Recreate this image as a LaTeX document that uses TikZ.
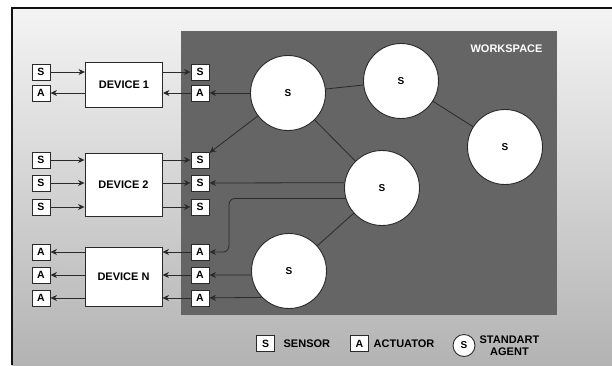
\documentclass[tikz,border=0pt]{standalone}
\usepackage{fontspec}
\setmainfont{Liberation Sans}
\usetikzlibrary{arrows.meta, positioning}
\definecolor{frame}{HTML}{111111}
\definecolor{wire}{HTML}{2A2A2A}
\definecolor{workspace}{HTML}{656565}
\definecolor{bgtop}{HTML}{F4F4F4}
\definecolor{bgbottom}{HTML}{B3B3B3}

\begin{document}
\begin{tikzpicture}[
		x=1pt, y=-1pt,
		>={Stealth[length=6.5pt, width=6pt, inset=2pt]},
		device/.style={
			draw=wire, fill=white, line width=0.9pt, minimum width=77pt, minimum height=#1,
			inner sep=0pt, font=\fontsize{11}{13}\selectfont\bfseries
		},
		port/.style={
			draw=wire, fill=white, line width=0.9pt, minimum width=18pt, minimum height=16pt,
			inner sep=0pt, font=\fontsize{10.5}{12}\selectfont\bfseries
		},
		agent/.style={
			circle, draw=wire, fill=white, line width=0.9pt, minimum size=#1,
			inner sep=0pt, font=\fontsize{10}{12}\selectfont\bfseries
		},
		arrow/.style={->, wire, line width=0.8pt},
		link/.style={wire, line width=0.8pt},
		legendtext/.style={inner sep=0pt, align=center, font=\fontsize{11}{12}\selectfont\bfseries}
		]
		
		% Frame and workspace area
		\useasboundingbox (0,0) rectangle (612,365);
		\shade[top color=bgtop, bottom color=bgbottom] (12,8) rectangle (612,365);
		\draw[frame, line width=1.2pt] (12,365) -- (12,8) -- (612,8);
		\fill[workspace] (181,31) rectangle (557,315);
		\node[anchor=east, text=white, font=\fontsize{11}{13}\selectfont\bfseries] (wslabel) at (546,49) {WORKSPACE};
		
		% Devices
		\node[device=45pt] (dev1) at (124,84.5) {DEVICE 1};
		\node[device=63pt] (dev2) at (123.5,184.5) {DEVICE 2};
		\node[device=59pt] (devn) at (123.5,276.5) {DEVICE N};
		
		% Ports of device 1
		\node[port] (s1in)  at (41,72)  {S};
		\node[port] (a1out) at (41,93)  {A};
		\node[port] (s1out) at (200,72) {S};
		\node[port] (a1in)  at (200,93) {A};
		
		% Ports of device 2
		\node[port] (s2in1)  at (41,160)  {S};
		\node[port] (s2in2)  at (41,183)  {S};
		\node[port] (s2in3)  at (41,207)  {S};
		\node[port] (s2out1) at (200,160) {S};
		\node[port] (s2out2) at (200,183) {S};
		\node[port] (s2out3) at (200,207) {S};
		
		% Ports of device N
		\node[port] (anout1) at (41,252)  {A};
		\node[port] (anout2) at (41,275)  {A};
		\node[port] (anout3) at (41,298)  {A};
		\node[port] (anin1)  at (200,252) {A};
		\node[port] (anin2)  at (200,275) {A};
		\node[port] (anin3)  at (200,298) {A};
		
		% Standart agents
		\node[agent=75pt] (ag1) at (288,93)  {S};
		\node[agent=75pt] (ag2) at (401,81)  {S};
		\node[agent=75pt] (ag3) at (505,147) {S};
		\node[agent=75pt] (ag4) at (382,188) {S};
		\node[agent=75pt] (ag5) at (289,271) {S};
		
		% --- Device signals ---
		\draw[arrow] (s1in) -- (s1in -| dev1.west);
		\draw[arrow] (dev1.west |- a1out) -- (a1out);
		\draw[arrow] (dev1.east |- s1out) -- (s1out);
		\draw[arrow] (a1in) -- (a1in -| dev1.east);
		
		\draw[arrow] (s2in1) -- (s2in1 -| dev2.west);
		\draw[arrow] (s2in2) -- (s2in2 -| dev2.west);
		\draw[arrow] (s2in3) -- (s2in3 -| dev2.west);
		\draw[arrow] (dev2.east |- s2out1) -- (s2out1);
		\draw[arrow] (dev2.east |- s2out2) -- (s2out2);
		\draw[arrow] (dev2.east |- s2out3) -- (s2out3);
		
		\draw[arrow] (devn.west |- anout1) -- (anout1);
		\draw[arrow] (devn.west |- anout2) -- (anout2);
		\draw[arrow] (devn.west |- anout3) -- (anout3);
		\draw[arrow] (anin1) -- (anin1 -| devn.east);
		\draw[arrow] (anin2) -- (anin2 -| devn.east);
		\draw[arrow] (anin3) -- (anin3 -| devn.east);
		
		% --- Agent links ---
		\draw[link] (ag1) -- (ag2);
		\draw[link] (ag2) -- (ag3);
		\draw[link] (ag1) -- (ag4);
		\draw[link] (ag4) -- (ag5);
		
		% Agents driving the ports
		\draw[arrow] (ag1) -- (a1in);
		\draw[arrow] (ag1) -- (s2out1);
		\draw[arrow] (ag4.172) -- (s2out2);
		\coordinate (bend) at (229,252);
		\draw[arrow, rounded corners=6pt] (ag4.196) -| (bend) -- (anin1);
		\draw[arrow] (ag5.186) -- (anin2);
		\draw[arrow] (ag5.224) -- (anin3);
		
		% --- Legend ---
		\node[port] (legs) at (265.5,343.5) {S};
		\node[legendtext, right=8.5pt of legs] (legstext) {SENSOR};
		\node[port] (lega) at (359.5,343.5) {A};
		\node[legendtext, right=4.5pt of lega] (legatext) {ACTUATOR};
		\node[agent=22pt] (legag) at (464,345.5) {S};
		\node[legendtext, right=4pt of legag] (legagtext) {STANDART\\AGENT};
		
	\end{tikzpicture}
\end{document}
